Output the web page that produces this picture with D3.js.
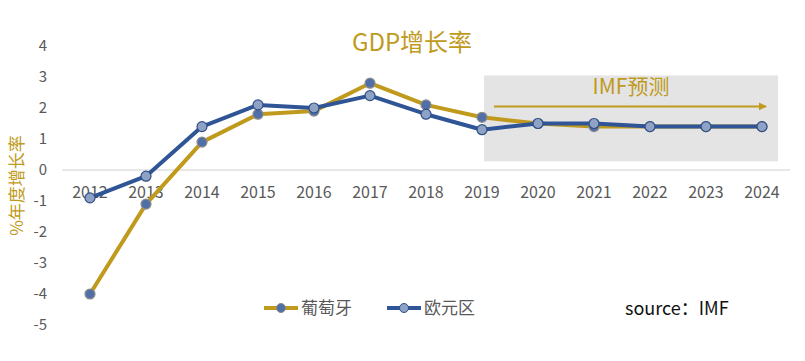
<!DOCTYPE html>
<html><head><meta charset="utf-8">
<script src="https://cdn.jsdelivr.net/npm/d3@7"></script>
<style>body{margin:0;background:#fff}svg{display:block;font-family:"Noto Sans CJK SC","Noto Sans",sans-serif}</style>
</head><body><svg id="c" width="805" height="361"></svg>
<script>
const years = [2012,2013,2014,2015,2016,2017,2018,2019,2020,2021,2022,2023,2024];
const portugal = [-4.0,-1.1,0.9,1.8,1.9,2.8,2.1,1.7,1.5,1.4,1.4,1.4,1.4];
const eurozone = [-0.9,-0.2,1.4,2.1,2.0,2.4,1.8,1.3,1.5,1.5,1.4,1.4,1.4];
const yTicks = [4,3,2,1,0,-1,-2,-3,-4,-5];
const seriesNames = ["葡萄牙","欧元区"];
const forecastStart = 2019, forecastEnd = 2024;

const gold = "#C09A1C", blue = "#2F5597";
const svg = d3.select("#c");
const x = d3.scalePoint().domain(years).range([90,762]);
const y = d3.scaleLinear().domain([-5,4]).range([325,46]);

// forecast box
svg.append("rect").attr("x", x(forecastStart)+2).attr("y", y(3.05))
  .attr("width", x(forecastEnd)+16 - x(forecastStart)-2).attr("height", y(0.28)-y(3.05))
  .attr("fill","#e4e4e4");
svg.append("defs").append("marker").attr("id","ah").attr("viewBox","0 0 10 10")
  .attr("refX",9).attr("refY",5).attr("markerWidth",4).attr("markerHeight",4).attr("orient","auto")
  .append("path").attr("d","M0,0L10,5L0,10z").attr("fill",gold);
svg.append("line").attr("x1", x(forecastStart)+12).attr("x2", x(forecastEnd)+4)
  .attr("y1", y(2.05)).attr("y2", y(2.05)).attr("stroke",gold).attr("stroke-width",2)
  .attr("marker-end","url(#ah)");
svg.append("text").attr("x",631).attr("y",y(2.45)).attr("text-anchor","middle")
  .attr("fill",gold).attr("font-size",21).text("IMF预测");

// zero line
svg.append("line").attr("x1",62).attr("x2",790).attr("y1",y(0)).attr("y2",y(0))
  .attr("stroke","#d0d0d0").attr("stroke-width",1);

// y axis labels
svg.selectAll(".yt").data(yTicks).join("text").attr("x",47).attr("y",d=>y(d)+5)
  .attr("text-anchor","end").attr("fill","#595959").attr("font-size",15).text(d=>d);
// x labels
svg.selectAll(".xt").data(years).join("text").attr("x",d=>x(d)).attr("y",y(0)+28)
  .attr("text-anchor","middle").attr("fill","#595959").attr("font-size",16).text(d=>d);

// title
svg.append("text").attr("x",412).attr("y",51).attr("text-anchor","middle")
  .attr("fill",gold).attr("font-size",24).text("GDP增长率");
// y title
svg.append("text").attr("transform",`translate(23,${y(-0.5)}) rotate(-90)`)
  .attr("text-anchor","middle").attr("fill",gold).attr("font-size",17).text("%年度增长率");

const line = d3.line().x((d,i)=>x(years[i])).y(d=>y(d));
function drawSeries(vals, stroke, mfill, mstroke){
  svg.append("path").datum(vals).attr("d",line).attr("fill","none")
    .attr("stroke",stroke).attr("stroke-width",4).attr("stroke-linejoin","round");
  svg.append("g").selectAll("circle").data(vals).join("circle")
    .attr("cx",(d,i)=>x(years[i])).attr("cy",d=>y(d)).attr("r",5)
    .attr("fill",mfill).attr("stroke",mstroke).attr("stroke-width",1.2);
}
drawSeries(portugal, gold, "#4F6FA6", "#8c8c8c");
drawSeries(eurozone, blue, "#8EA2C6", "#2F4F85");

// legend
const lg = [{n:seriesNames[0],c:gold,f:"#4F6FA6",s:"#8c8c8c",x:264},{n:seriesNames[1],c:blue,f:"#8EA2C6",s:"#2F4F85",x:387}];
lg.forEach(l=>{
  svg.append("line").attr("x1",l.x).attr("x2",l.x+34).attr("y1",308).attr("y2",308).attr("stroke",l.c).attr("stroke-width",4);
  svg.append("circle").attr("cx",l.x+17).attr("cy",308).attr("r",4.5).attr("fill",l.f).attr("stroke",l.s);
  svg.append("text").attr("x",l.x+37).attr("y",314).attr("fill","#595959").attr("font-size",17).text(l.n);
});
svg.append("text").attr("x",625).attr("y",315).attr("fill","#111").attr("font-size",18).text("source：IMF");
</script></body></html>
